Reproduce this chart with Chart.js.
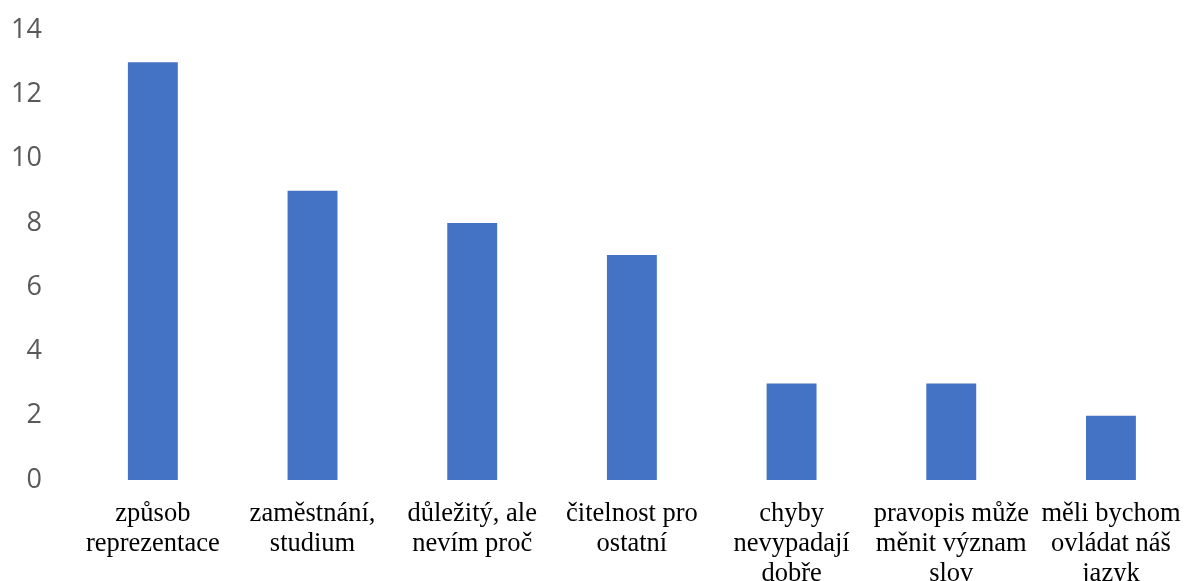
<!DOCTYPE html>
<html>
<head>
<meta charset="utf-8">
<script src="https://cdn.jsdelivr.net/npm/chart.js@4/dist/chart.umd.min.js"></script>
<style>
  html, body { margin: 0; padding: 0; background: #fff; overflow: hidden; }
  .wrap { width: 1200px; height: 617px; margin-top: -17px; }
</style>
</head>
<body>
<div class="wrap"><canvas id="myChart" width="1200" height="617"></canvas></div>
<script>
  // reasons, each one split into the lines it is printed on
  const categories = [
    ['způsob', 'reprezentace'],
    ['zaměstnání,', 'studium'],
    ['důležitý, ale', 'nevím proč'],
    ['čitelnost pro', 'ostatní'],
    ['chyby', 'nevypadají', 'dobře'],
    ['pravopis může', 'měnit význam', 'slov'],
    ['měli bychom', 'ovládat náš', 'jazyk']
  ];
  const counts = [13, 9, 8, 7, 3, 3, 2];
  const yTicks = [0, 2, 4, 6, 8, 10, 12, 14];

  const ctx = document.getElementById('myChart').getContext('2d');

  // eslint-disable-next-line no-unused-vars,no-undef
  const chart = new Chart(ctx, {
    type: 'bar',
    data: {
      labels: categories,
      datasets: [{
        data: counts,
        backgroundColor: '#4472C4',
        borderWidth: 0,
        barPercentage: 1,
        categoryPercentage: 0.3125
      }]
    },
    options: {
      responsive: false,
      animation: false,
      layout: { padding: { top: 0, right: 7, bottom: 10, left: 0 } },
      plugins: { legend: { display: false }, tooltip: { enabled: false } },
      scales: {
        x: {
          afterFit: scale => { scale.height = 110; },
          grid: { display: false, drawTicks: false },
          border: { display: false },
          ticks: {
            color: '#000',
            padding: 19,
            maxRotation: 0,
            autoSkip: false,
            font: { family: '"Liberation Serif", "Times New Roman", serif', size: 26.5, lineHeight: 1.13 }
          }
        },
        y: {
          min: 0,
          max: 14,
          afterBuildTicks: scale => { scale.ticks = yTicks.map(v => ({ value: v })); },
          afterFit: scale => { scale.width = 73; },
          grid: { display: false, drawTicks: false },
          border: { display: false },
          ticks: {
            color: '#595959',
            padding: 31,
            font: { family: '"Open Sans", sans-serif', size: 27 }
          }
        }
      }
    }
  });
</script>
</body>
</html>
